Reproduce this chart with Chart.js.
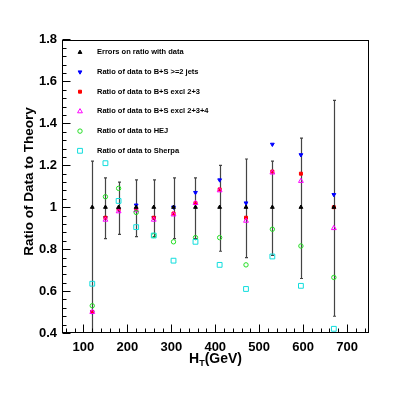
<!DOCTYPE html>
<html>
<head>
<meta charset="utf-8">
<script src="https://cdn.jsdelivr.net/npm/chart.js@4"></script>
<style>
  html, body { margin: 0; padding: 0; background: #fff; }
</style>
</head>
<body>
<canvas id="canvas" width="411" height="395"></canvas>
<script>
// HT bin centres (GeV)
var ht = [120, 150, 180, 220, 260, 305, 355, 410, 470, 530, 595, 670];
// data / data = 1, with its errors
var ratio = [1, 1, 1, 1, 1, 1, 1, 1, 1, 1, 1, 1];
var errUp = [0.22, 0.14, 0.12, 0.13, 0.13, 0.14, 0.14, 0.20, 0.23, 0.22, 0.33, 0.51];
var errDown = [0.70, 0.15, 0.13, 0.14, 0.14, 0.15, 0.15, 0.21, 0.24, 0.23, 0.34, 0.52];
// ratios of data to the predictions
var bsJets = [0.50, 0.95, 0.99, 1.01, 0.95, 1.00, 1.07, 1.13, 1.02, 1.30, 1.25, 1.06];
var bsExcl23 = [0.50, 0.95, 0.99, 0.99, 0.95, 0.97, 1.02, 1.085, 0.95, 1.17, 1.16, 1.00];
var bsExcl234 = [0.50, 0.94, 0.98, 0.985, 0.94, 0.965, 1.02, 1.08, 0.935, 1.165, 1.125, 0.90];
var hej = [0.53, 1.05, 1.09, 0.975, 0.865, 0.835, 0.855, 0.855, 0.725, 0.895, 0.815, 0.665];
var sherpa = [0.635, 1.21, 1.03, 0.905, 0.865, 0.745, 0.835, 0.725, 0.61, 0.765, 0.625, 0.42];

var labels = [
  'Errors on ratio with data',
  'Ratio of data to B+S >=2 jets',
  'Ratio of data to B+S excl 2+3',
  'Ratio of data to B+S excl 2+3+4',
  'Ratio of data to HEJ',
  'Ratio of data to Sherpa'
];
var xTicks = [100, 200, 300, 400, 500, 600, 700];
var yTicks = [0.4, 0.6, 0.8, 1, 1.2, 1.4, 1.6, 1.8];

var FONT = '"Liberation Sans", Arial, Helvetica, sans-serif';

function pts(ys) {
  return ht.map(function (x, i) { return { x: x, y: ys[i] }; });
}

// error bars, frame with inside ticks, legend and axis titles
var rootStyle = {
  id: 'rootStyle',
  beforeDatasetsDraw: function (chart) {
    var ctx = chart.ctx, xs = chart.scales.x, ys = chart.scales.y, a = chart.chartArea;
    ctx.save();
    ctx.strokeStyle = '#444';
    ctx.lineWidth = 1.2;
    for (var i = 0; i < ht.length; i++) {
      var x = Math.round(xs.getPixelForValue(ht[i])) + 0.5;
      var top = ys.getPixelForValue(ratio[i] + errUp[i]);
      var bot = ys.getPixelForValue(ratio[i] - errDown[i]);
      var t = Math.max(top, a.top), b = Math.min(bot, a.bottom);
      ctx.beginPath();
      ctx.moveTo(x, t); ctx.lineTo(x, b);
      if (top >= a.top) { ctx.moveTo(x - 1.5, top); ctx.lineTo(x + 1.5, top); }
      if (bot <= a.bottom) { ctx.moveTo(x - 1.5, bot); ctx.lineTo(x + 1.5, bot); }
      ctx.stroke();
    }
    ctx.restore();
  },
  afterDraw: function (chart) {
    var ctx = chart.ctx, xs = chart.scales.x, ys = chart.scales.y, a = chart.chartArea;
    ctx.save();
    ctx.strokeStyle = '#000';
    ctx.lineWidth = 1;
    var L = Math.round(a.left) + 0.5, R = Math.round(a.right) - 0.5;
    var T = Math.round(a.top) + 0.5, B = Math.round(a.bottom) - 0.5;
    ctx.strokeRect(L, T, R - L, B - T);

    ctx.beginPath();
    var v, p, len;
    for (v = 0.4; v <= 1.8001; v += 0.04) {
      p = Math.round(ys.getPixelForValue(v)) + 0.5;
      len = Math.abs(v * 5 - Math.round(v * 5)) < 0.001 ? 8 : 4;
      ctx.moveTo(L, p); ctx.lineTo(L + len, p);
    }
    for (v = 60; v <= 740; v += 20) {
      p = Math.round(xs.getPixelForValue(v)) + 0.5;
      len = v % 100 === 0 ? 8 : 4;
      ctx.moveTo(p, B); ctx.lineTo(p, B - len);
    }
    ctx.stroke();

    // legend inside the frame
    ctx.font = 'bold 7.5px ' + FONT;
    ctx.textBaseline = 'middle';
    ctx.textAlign = 'left';
    chart.data.datasets.forEach(function (ds, i) {
      var y = 52.3 + i * 19.7;
      ctx.fillStyle = ds.backgroundColor;
      ctx.strokeStyle = ds.borderColor;
      ctx.lineWidth = ds.borderWidth;
      Chart.helpers.drawPoint(ctx, {
        pointStyle: ds.pointStyle, radius: ds.pointRadius,
        rotation: ds.rotation || 0, borderWidth: ds.borderWidth
      }, 80, y);
      ctx.fillStyle = '#000';
      ctx.fillText(ds.label, 97, y);
    });

    // y title
    ctx.fillStyle = '#000';
    ctx.font = 'bold 13.5px ' + FONT;
    ctx.save();
    ctx.translate(29, 181.5);
    ctx.rotate(-Math.PI / 2);
    ctx.textAlign = 'center';
    ctx.textBaseline = 'middle';
    ctx.fillText('Ratio of Data to Theory', 0, 0);
    ctx.restore();

    // x title H_T(GeV)
    ctx.textBaseline = 'alphabetic';
    ctx.textAlign = 'left';
    var big = 'bold 14px ' + FONT, small = 'bold 9px ' + FONT;
    ctx.font = big; var w1 = ctx.measureText('H').width, w3 = ctx.measureText('(GeV)').width;
    ctx.font = small; var w2 = ctx.measureText('T').width;
    var x0 = 215.5 - (w1 + w2 + w3) / 2;
    ctx.font = big; ctx.fillText('H', x0, 363);
    ctx.font = small; ctx.fillText('T', x0 + w1, 366);
    ctx.font = big; ctx.fillText('(GeV)', x0 + w1 + w2, 363);
    ctx.restore();
  }
};

var ctx = document.getElementById('canvas').getContext('2d');
var myChart = new Chart(ctx, {
  type: 'scatter',
  data: {
    datasets: [{
      label: labels[0], data: pts(ratio),
      pointStyle: 'triangle', pointRadius: 2.2, borderWidth: 1,
      backgroundColor: '#000', borderColor: '#000', order: 0
    }, {
      label: labels[1], data: pts(bsJets),
      pointStyle: 'triangle', rotation: 180, pointRadius: 2.2, borderWidth: 1,
      backgroundColor: '#0000ff', borderColor: '#0000ff', order: 5
    }, {
      label: labels[2], data: pts(bsExcl23),
      pointStyle: 'rect', pointRadius: 2.1, borderWidth: 1,
      backgroundColor: '#ff0000', borderColor: '#ff0000', order: 4
    }, {
      label: labels[3], data: pts(bsExcl234),
      pointStyle: 'triangle', pointRadius: 2.8, borderWidth: 1,
      backgroundColor: 'rgba(0,0,0,0)', borderColor: '#ff00ff', order: 3
    }, {
      label: labels[4], data: pts(hej),
      pointStyle: 'circle', pointRadius: 2.2, borderWidth: 1,
      backgroundColor: 'rgba(0,0,0,0)', borderColor: '#22dd22', order: 2
    }, {
      label: labels[5], data: pts(sherpa),
      pointStyle: 'rect', pointRadius: 3.4, borderWidth: 1,
      backgroundColor: 'rgba(0,0,0,0)', borderColor: '#11dddd', order: 1
    }]
  },
  options: {
    responsive: false,
    animation: false,
    layout: { padding: { top: 39.5, right: 42, left: 0, bottom: 0 } },
    plugins: { legend: { display: false }, tooltip: { enabled: false } },
    scales: {
      x: {
        type: 'linear', min: 50, max: 750,
        afterBuildTicks: function (s) { s.ticks = xTicks.map(function (v) { return { value: v }; }); },
        afterFit: function (s) { s.height = 62; },
        grid: { display: false, drawTicks: false },
        border: { display: false },
        ticks: { padding: 7, color: '#000', maxRotation: 0, font: { family: FONT, size: 13, weight: 'bold' } }
      },
      y: {
        min: 0.4, max: 1.8,
        afterBuildTicks: function (s) { s.ticks = yTicks.map(function (v) { return { value: v }; }); },
        afterFit: function (s) { s.width = 61.5; },
        grid: { display: false, drawTicks: false },
        border: { display: false },
        ticks: {
          padding: 4.5, color: '#000', font: { family: FONT, size: 13, weight: 'bold' },
          callback: function (v) { return String(Math.round(v * 10) / 10); }
        }
      }
    }
  },
  plugins: [rootStyle]
});
</script>
</body>
</html>
